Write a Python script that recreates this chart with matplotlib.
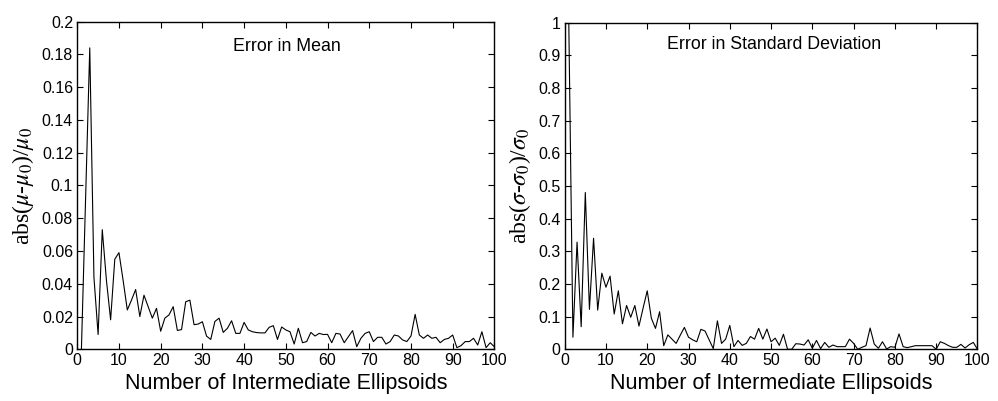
import numpy as np
import matplotlib
matplotlib.use("Agg")
import matplotlib.pyplot as plt

plt.rcParams['font.family'] = ['Liberation Sans', 'DejaVu Sans']
plt.rcParams['mathtext.fontset'] = 'stix'

n_ellipsoids = np.arange(1, 101)

err_mean = [
    0.0, 0.092, 0.184, 0.044, 0.009, 0.073, 0.042, 0.018, 0.055, 0.059,
    0.042, 0.024, 0.030, 0.0365, 0.020, 0.033, 0.026, 0.019, 0.025, 0.011,
    0.019, 0.021, 0.026, 0.0115, 0.012, 0.029, 0.030, 0.015, 0.0154, 0.0168,
    0.008, 0.006, 0.017, 0.019, 0.0103, 0.0128, 0.0174, 0.0097, 0.0097, 0.0164,
    0.0118, 0.0107, 0.0102, 0.0100, 0.0100, 0.0134, 0.0144, 0.006, 0.0136, 0.0118,
    0.0107, 0.0032, 0.0128, 0.004, 0.0047, 0.0103, 0.0081, 0.0097, 0.0090, 0.0091,
    0.004, 0.0097, 0.0093, 0.004, 0.0077, 0.0114, 0.0016, 0.0067, 0.0097, 0.0107,
    0.0047, 0.0073, 0.0073, 0.0032, 0.0047, 0.0087, 0.0081, 0.0057, 0.0047, 0.0081,
    0.0213, 0.0087, 0.0067, 0.0087, 0.0067, 0.0073, 0.004, 0.006, 0.0067, 0.0087,
    0.001, 0.0022, 0.0047, 0.0047, 0.0067, 0.0026, 0.0107, 0.001, 0.004, 0.0015,
]

err_std = [
    1.0, 0.037, 0.328, 0.069, 0.48, 0.122, 0.34, 0.12, 0.233, 0.19,
    0.224, 0.108, 0.179, 0.078, 0.134, 0.098, 0.134, 0.071, 0.126, 0.179,
    0.095, 0.064, 0.115, 0.011, 0.044, 0.031, 0.018, 0.043, 0.067, 0.037,
    0.029, 0.023, 0.061, 0.056, 0.029, 0.002, 0.087, 0.018, 0.031, 0.073,
    0.008, 0.027, 0.012, 0.018, 0.039, 0.031, 0.064, 0.031, 0.062, 0.023,
    0.034, 0.012, 0.046, 0.0, 0.0, 0.017, 0.016, 0.013, 0.029, 0.003,
    0.027, 0.002, 0.021, 0.006, 0.013, 0.008, 0.008, 0.008, 0.031, 0.018,
    0.0, 0.006, 0.011, 0.065, 0.016, 0.003, 0.023, 0.001, 0.008, 0.006,
    0.047, 0.008, 0.005, 0.008, 0.011, 0.011, 0.011, 0.011, 0.011, 0.0,
    0.023, 0.018, 0.011, 0.006, 0.006, 0.015, 0.004, 0.014, 0.021, 0.0,
]

x_ticks = [0, 10, 20, 30, 40, 50, 60, 70, 80, 90, 100]
mean_ticks = [0, 0.02, 0.04, 0.06, 0.08, 0.1, 0.12, 0.14, 0.16, 0.18, 0.2]
mean_labels = ['0', '0.02', '0.04', '0.06', '0.08', '0.1', '0.12', '0.14', '0.16', '0.18', '0.2']
std_ticks = [0, 0.1, 0.2, 0.3, 0.4, 0.5, 0.6, 0.7, 0.8, 0.9, 1.0]
std_labels = ['0', '0.1', '0.2', '0.3', '0.4', '0.5', '0.6', '0.7', '0.8', '0.9', '1']

fig = plt.figure(figsize=(9.98, 4.01), dpi=100)
ax1 = fig.add_axes([0.0774, 0.129, 0.418, 0.817])
ax2 = fig.add_axes([0.5658, 0.129, 0.4136, 0.8145])


def style(ax, yt, yl):
    ax.set_xlim(0, 100)
    ax.set_xticks(x_ticks)
    ax.set_xticklabels([str(t) for t in x_ticks])
    ax.set_yticks(yt)
    ax.set_yticklabels(yl)
    ax.set_ylim(yt[0], yt[-1])
    ax.tick_params(direction='in', top=True, right=True, length=4, width=0.8,
                   labelsize=11.5, pad=3, colors='black')
    for s in ax.spines.values():
        s.set_linewidth(1.0)
        s.set_color('black')
    ax.set_xlabel('Number of Intermediate Ellipsoids', fontsize=15.5, labelpad=3)


ax1.plot(n_ellipsoids, err_mean, color='black', lw=0.8)
style(ax1, mean_ticks, mean_labels)
ax1.set_ylabel(r'abs($\mu$-$\mu_0$)/$\mu_0$', fontsize=17, family='Liberation Serif', labelpad=4)
ax1.text(37.4, 0.923, 'Error in Mean', transform=ax1.get_xaxis_transform(),
         ha='left', va='center', fontsize=12.8)

ax2.plot(n_ellipsoids, err_std, color='black', lw=0.8)
style(ax2, std_ticks, std_labels)
ax2.set_ylabel(r'abs($\sigma$-$\sigma_0$)/$\sigma_0$', fontsize=17, family='Liberation Serif', labelpad=4)
ax2.text(24.8, 0.932, 'Error in Standard Deviation', transform=ax2.get_xaxis_transform(),
         ha='left', va='center', fontsize=12.8)

fig.savefig('out.png', dpi=100)
